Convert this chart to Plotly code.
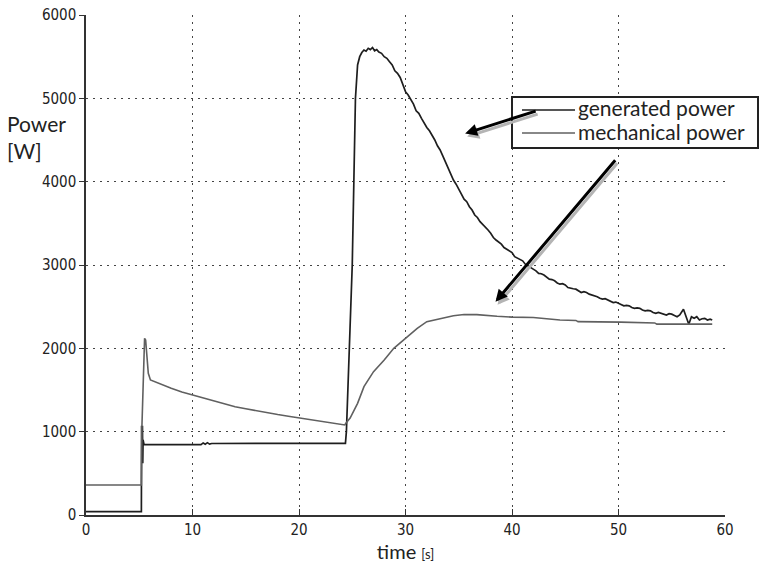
import plotly.graph_objects as go

# ---------------- data ----------------
gen_t = [0, 5.2, 5.22, 5.3, 5.33, 5.36, 5.45, 10.8, 11.0, 11.2, 11.4, 11.6, 11.8, 24.36,
         24.45, 24.6, 24.75, 24.9, 25.0, 25.15, 25.3, 25.5, 25.7, 25.9, 26.1, 26.3, 26.5,
         26.7, 26.9, 27.1, 27.3, 27.5, 27.75, 28.0, 28.25, 28.5, 28.75, 29.0, 29.25, 29.5,
         29.75, 30.0, 30.25, 30.5, 30.75, 31.0, 31.25, 31.5, 31.75, 32.0, 32.25, 32.5,
         32.75, 33.0, 33.25, 33.5, 33.75, 34.0, 34.25, 34.5, 34.75, 35.0, 35.25, 35.5,
         35.75, 36.0, 36.25, 36.5, 36.75, 37.0, 37.25, 37.5, 37.75, 38.0, 38.25, 38.5,
         38.75, 39.0, 39.25, 39.5, 39.75, 40.0, 40.25, 40.5, 40.75, 41.0, 41.25, 41.5,
         41.75, 42.0, 42.25, 42.5, 42.75, 43.0, 43.25, 43.5, 43.75, 44.0, 44.25, 44.5,
         44.75, 45.0, 45.25, 45.5, 45.75, 46.0, 46.25, 46.5, 46.75, 47.0, 47.25, 47.5,
         47.75, 48.0, 48.25, 48.5, 48.75, 49.0, 49.25, 49.5, 49.75, 50.0, 50.25, 50.5,
         50.75, 51.0, 51.25, 51.5, 51.75, 52.0, 52.25, 52.5, 52.75, 53.0, 53.25, 53.5,
         53.75, 54.0, 54.25, 54.5, 54.75, 55.0, 55.25, 55.5, 55.75, 56.1, 56.35, 56.6,
         56.85, 57.1, 57.35, 57.6, 57.85, 58.1, 58.35, 58.6, 58.8]
gen_p = [40, 40, 1060, 1060, 620, 900, 845, 845, 865, 850, 868, 850, 858, 860,
         1000, 1500, 2000, 2600, 3000, 4000, 5000, 5400, 5500, 5550, 5580, 5565, 5600,
         5585, 5610, 5570, 5585, 5555, 5540, 5500, 5480, 5440, 5400, 5330, 5300, 5250,
         5170, 5080, 5040, 4980, 4930, 4850, 4820, 4760, 4700, 4650, 4610, 4560, 4500,
         4430, 4380, 4310, 4240, 4150, 4100, 4020, 3970, 3900, 3850, 3790, 3760, 3700,
         3660, 3600, 3570, 3520, 3490, 3450, 3420, 3380, 3330, 3300, 3280, 3250, 3210,
         3190, 3170, 3150, 3100, 3080, 3060, 3050, 3010, 2990, 2975, 2950, 2930, 2900,
         2895, 2880, 2850, 2830, 2825, 2810, 2785, 2770, 2775, 2760, 2730, 2720, 2715,
         2710, 2685, 2670, 2680, 2670, 2650, 2640, 2635, 2620, 2600, 2590, 2595, 2580,
         2560, 2550, 2555, 2540, 2520, 2510, 2515, 2510, 2490, 2480, 2485, 2480, 2460,
         2450, 2455, 2450, 2430, 2420, 2430, 2420, 2405, 2400, 2415, 2410, 2395, 2380,
         2400, 2470, 2380, 2290, 2380, 2360, 2380, 2340, 2355, 2360, 2340, 2350, 2340,
         2360]

mech_t = [0, 5.2, 5.25, 5.4, 5.5, 5.6, 5.7, 5.85, 6.05, 7, 8, 9, 10, 11, 12, 13, 14, 15,
          16, 17, 18, 19, 20, 21, 22, 23, 24, 24.3, 24.4, 24.8, 25.5, 26.1, 27.0, 28.0,
          28.9, 30.2, 31.1, 32.0, 33.3, 34.5, 35.5, 36.7, 38.6, 40, 42, 44.5, 46, 46.2,
          50.2, 53.4, 53.6, 58.8]
mech_p = [360, 360, 1060, 1900, 2120, 2100, 1900, 1700, 1620, 1570, 1520, 1475, 1440,
          1400, 1370, 1335, 1300, 1275, 1250, 1225, 1205, 1185, 1165, 1145, 1125, 1105,
          1090, 1080, 1100, 1163, 1340, 1540, 1720, 1860, 2000, 2140, 2240, 2320, 2360,
          2390, 2405, 2405, 2385, 2375, 2370, 2340, 2335, 2320, 2315, 2305, 2290, 2290]

x_ticks = [0, 10, 20, 30, 40, 50, 60]
y_ticks = [0, 1000, 2000, 3000, 4000, 5000, 6000]
series_names = ["generated power", "mechanical power"]
series_colors = ["#1e1e1e", "#606060"]

# ---------------- geometry (body margin removed by post_script) ----------------
W, H = 761, 565
L, R, T, B = 86, 36, 15, 50
PW, PH = W - L - R, H - T - B


def sx(x):  # screen px -> paper x
    return (x - L) / PW


def sy(y):  # screen px -> paper y
    return 1 - (y - T) / PH


# ---------------- figure ----------------
fig = go.Figure()
fig.add_trace(go.Scatter(x=gen_t, y=gen_p, mode="lines", name=series_names[0],
                         line=dict(color=series_colors[0], width=1.7)))
fig.add_trace(go.Scatter(x=mech_t, y=mech_p, mode="lines", name=series_names[1],
                         line=dict(color=series_colors[1], width=1.6)))

label_font = dict(family="Lato, Open Sans, sans-serif", size=21, color="#222")
tick_font = dict(family="DejaVu Sans Condensed, Liberation Sans Narrow, DejaVu Sans",
                 size=15, color="#222")
grid = dict(showgrid=True, gridcolor="#444", griddash="2px,5px", gridwidth=1.3)

fig.update_layout(
    width=W, height=H,
    margin=dict(l=L, r=R, t=T, b=B, autoexpand=False),
    paper_bgcolor="white", plot_bgcolor="white",
    showlegend=False,
    xaxis=dict(range=[0, 60], tickmode="array", tickvals=x_ticks,
               ticktext=[str(v) for v in x_ticks], **grid,
               showline=True, linecolor="#333", linewidth=1.5,
               ticks="inside", ticklen=6, tickcolor="#333", automargin=False,
               tickfont=tick_font, zeroline=False, ticklabeloverflow="allow",
               title=dict(text="time <span style='font-size:13px'>[s]</span>",
                          font=dict(family="Lato, Open Sans, sans-serif", size=20, color="#222"),
                          standoff=0)),
    yaxis=dict(range=[0, 6000], tickmode="array", tickvals=y_ticks,
               ticktext=[str(v) for v in y_ticks], **grid,
               showline=True, linecolor="#333", linewidth=1.5,
               ticks="outside", ticklen=5, tickcolor="#333", automargin=False,
               tickfont=tick_font, zeroline=False, ticklabeloverflow="allow"),
)

# y-axis label (horizontal, two lines)
fig.add_annotation(xref="paper", yref="paper", x=sx(5), y=sy(109),
                   xanchor="left", yanchor="top", align="left", showarrow=False,
                   text="Power<br>[W]", font=label_font)

# legend box drawn by hand (tight, as in the reference)
fig.add_shape(type="rect", xref="paper", yref="paper",
              x0=sx(512), x1=sx(758), y0=sy(97), y1=sy(148),
              line=dict(color="#222", width=2), fillcolor="white", layer="above")
leg_rows = [110, 133]
leg_text_rows = [108, 131]
for name, col, ly, ty in zip(series_names, series_colors, leg_rows, leg_text_rows):
    fig.add_shape(type="line", xref="paper", yref="paper",
                  x0=sx(522), x1=sx(575), y0=sy(ly), y1=sy(ly),
                  line=dict(color=col, width=1.6), layer="above")
    fig.add_annotation(xref="paper", yref="paper", x=sx(576), y=sy(ty),
                       xanchor="left", yanchor="middle", showarrow=False,
                       text=name, font=dict(family="Lato, Open Sans, sans-serif",
                                            size=21, color="#222"))

# arrows with gray shadow
arrows = [
    dict(x=35.6, y=4577, ax=72, ay=-23),
    dict(x=38.45, y=2558, ax=121, ay=-143),
]
for a in arrows:
    common = dict(x=a["x"], y=a["y"], ax=a["ax"], ay=a["ay"], axref="pixel", ayref="pixel",
                  xref="x", yref="y", showarrow=True, arrowhead=2, arrowsize=0.8,
                  arrowwidth=3, text="")
    fig.add_annotation(**common, arrowcolor="#b4b4b4", xshift=2, yshift=-3)
    fig.add_annotation(**common, arrowcolor="#000")

fig.write_html("out.html", config={"displayModeBar": False},
               post_script="document.body.style.margin='0';document.body.style.overflow='hidden';")
